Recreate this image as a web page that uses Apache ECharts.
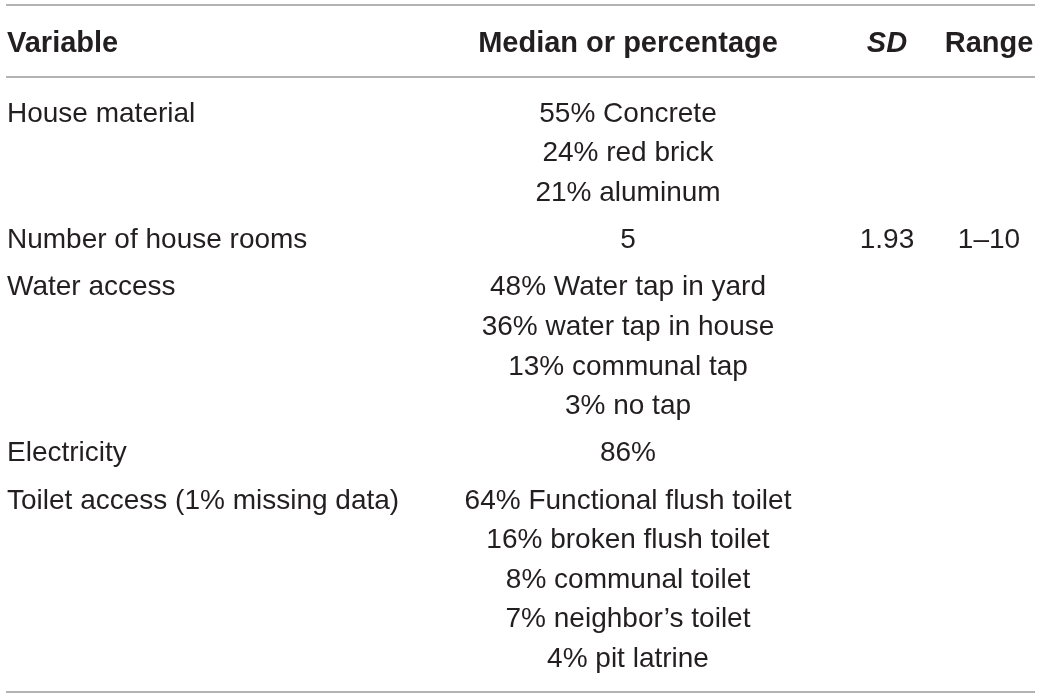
<!DOCTYPE html>
<html>
<head>
<meta charset="utf-8">
<script src="https://cdn.jsdelivr.net/npm/echarts@6/dist/echarts.min.js"></script>
<style>html,body{margin:0;padding:0;background:#fff;}#c{width:1040px;height:698px;}</style>
</head>
<body>
<div id="c"></div>
<script>
// ---- data ----
const headers = ["Variable", "Median or percentage", "SD", "Range"];
const variables = ["House material", "Number of house rooms", "Water access", "Electricity", "Toilet access (1% missing data)"];
const medianOrPct = [
  ["55% Concrete", "24% red brick", "21% aluminum"],
  ["5"],
  ["48% Water tap in yard", "36% water tap in house", "13% communal tap", "3% no tap"],
  ["86%"],
  ["64% Functional flush toilet", "16% broken flush toilet", "8% communal toilet", "7% neighbor\u2019s toilet", "4% pit latrine"]
];
const sdValues = ["", "1.93", "", "", ""];
const rangeValues = ["", "1\u201310", "", "", ""];

// ---- layout ----
const FONT = "'Liberation Sans', Arial, Helvetica, sans-serif";
const FS = 28;
const FS_HEAD = 29;
const COLOR = "#231f20";
const LINE_COLOR = "#9a9a9a";
const colX = [7, 628, 887, 989];
const colAlign = ["left", "center", "center", "center"];
const headerY = 44;
const firstRowY = 114;
const lineStep = 39.6;
const groupGap = 7.6;
const lineLeft = 6, lineRight = 1035;
const rulesY = [5, 77, 692];

const els = [];
rulesY.forEach(y => {
  els.push({type: 'line', shape: {x1: lineLeft, y1: y, x2: lineRight, y2: y},
    style: {stroke: LINE_COLOR, lineWidth: 1.6}, silent: true});
});
headers.forEach((h, i) => {
  els.push({type: 'text', x: colX[i], y: headerY,
    style: {text: h, fill: COLOR, font: (i === 2 ? 'italic ' : '') + 'bold ' + FS_HEAD + 'px ' + FONT,
      textAlign: colAlign[i], textVerticalAlign: 'middle'}});
});
let y = firstRowY;
variables.forEach((v, r) => {
  const txt = (t, ci, yy) => els.push({type: 'text', x: colX[ci], y: yy,
    style: {text: t, fill: COLOR, font: FS + 'px ' + FONT, textAlign: colAlign[ci], textVerticalAlign: 'middle'}});
  txt(v, 0, y);
  if (sdValues[r]) txt(sdValues[r], 2, y);
  if (rangeValues[r]) txt(rangeValues[r], 3, y);
  medianOrPct[r].forEach((m, k) => txt(m, 1, y + k * lineStep));
  y += medianOrPct[r].length * lineStep + groupGap;
});

const chart = echarts.init(document.getElementById('c'), null, {renderer: 'canvas'});
chart.setOption({animation: false, graphic: {elements: els}});
</script>
</body>
</html>
